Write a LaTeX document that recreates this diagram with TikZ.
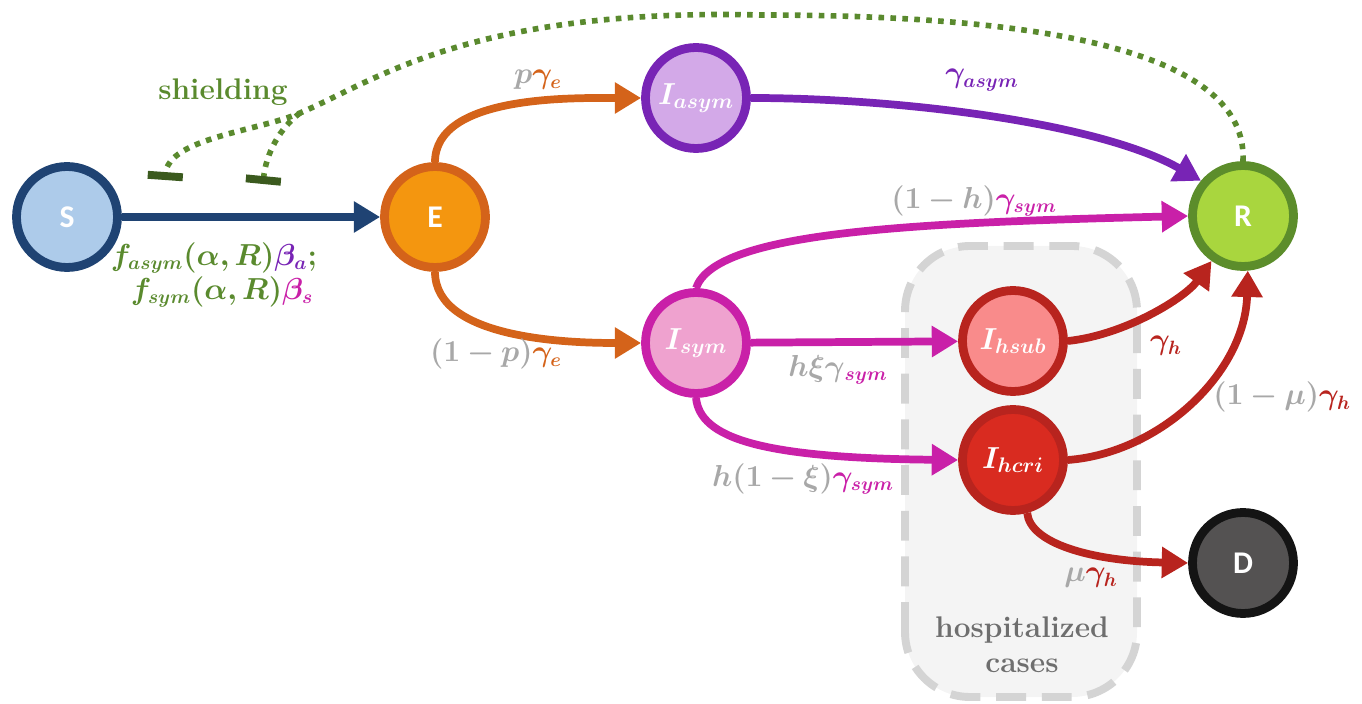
\documentclass[tikz,border=0pt]{standalone}
\usepackage{amsmath}
\usepackage{bm}
\usepackage{fontspec}
\setsansfont{Carlito}
\usepackage{tikz}
\usetikzlibrary{arrows.meta}
\definecolor{sblue}{HTML}{1F4373}
\definecolor{sfill}{HTML}{ADCBEA}
\definecolor{eorange}{HTML}{D4631A}
\definecolor{efill}{HTML}{F4960F}
\definecolor{apurple}{HTML}{7824B5}
\definecolor{afill}{HTML}{D3A9E8}
\definecolor{rgreen}{HTML}{5C8D2B}
\definecolor{rfill}{HTML}{A9D63E}
\definecolor{smag}{HTML}{C920A8}
\definecolor{symfill}{HTML}{EFA2CF}
\definecolor{hred}{HTML}{B8241E}
\definecolor{hsubfill}{HTML}{F98B8B}
\definecolor{hcrifill}{HTML}{D92B20}
\definecolor{dfill}{HTML}{545252}
\definecolor{lgray}{HTML}{A8A8A8}
\definecolor{shgreen}{HTML}{5A8A2E}
\definecolor{bargreen}{HTML}{3B5A1E}
\definecolor{boxgray}{HTML}{D4D4D4}
\definecolor{boxfill}{HTML}{F4F4F4}
\definecolor{hosptext}{HTML}{6E6E6E}
\tikzset{
  comp/.style={circle, minimum size=2.02cm, inner sep=0pt, line width=5pt, text=white},
  letter/.style={font=\sffamily\bfseries\fontsize{18}{20}\selectfont},   % S E R D
  sub/.style={font=\fontsize{18}{20}\selectfont},                        % I_x compartments
  flow/.style={line width=4.4pt, -{Triangle[length=15pt,width=17pt]}},
  shield/.style={draw=shgreen, line width=3.2pt, dash pattern=on 3.2pt off 3.6pt},
  bar/.style={-{Bar[width=20pt,line width=4.5pt,color=bargreen]}},
  rate/.style={font=\fontsize{16}{18}\selectfont, inner sep=1pt},
  word/.style={font=\bfseries\fontsize{17}{20}\selectfont, align=center},
  hbox/.style={draw=boxgray, fill=boxfill, line width=4.5pt,
               dash pattern=on 17pt off 9pt, rounded corners=1.3cm},
}

\begin{document}
\begin{tikzpicture}[x=0.02cm, y=0.02cm]
  \useasboundingbox (0,0) rectangle (1362,703);
  \draw[hbox] (905,6) rectangle (1137,457);
  \node[word, text=hosptext] (hosp) at (1022,58) {hospitalized\\cases};

  \node[comp, letter, draw=sblue, fill=sfill]     (S)   at (67,486)   {S};
  \node[comp, letter, draw=eorange, fill=efill]   (E)   at (435,486)  {E};
  \node[comp, sub, draw=apurple, fill=afill]      (Ia)  at (696,605)  {$\bm{I_{asym}}$};
  \node[comp, letter, draw=rgreen, fill=rfill]    (R)   at (1243,487) {R};
  \node[comp, sub, draw=smag, fill=symfill]       (Is)  at (696,360)  {$\bm{I_{sym}}$};
  \node[comp, sub, draw=hred, fill=hsubfill]      (Ihs) at (1013,362) {$\bm{I_{hsub}}$};
  \node[comp, sub, draw=hred, fill=hcrifill]      (Ihc) at (1013,243) {$\bm{I_{hcri}}$};
  \node[comp, letter, draw=black!92, fill=dfill]  (D)   at (1243,140) {D};

  \draw[flow, sblue] (S) -- (E);
  \draw[flow, eorange] (E.north) to[out=90,in=180,looseness=0.8] (Ia.west);
  \draw[flow, eorange] (E.south) to[out=-90,in=180,looseness=0.8] (Is.west);
  \draw[flow, apurple] (Ia.east) .. controls (900,605) and (1100,580) .. (R.140);
  \draw[flow, smag] (Is.north) .. controls (715,470) and (900,480) .. (R.west);
  \draw[flow, smag] (Is) -- (Ihs);
  \draw[flow, smag] (Is.south) .. controls (700,265) and (760,245) .. (Ihc.west);
  \draw[flow, hred] (Ihs.east) .. controls (1125,368) and (1185,405) .. (R.235);
  \draw[flow, hred] (Ihc.east) .. controls (1160,250) and (1245,330) .. (R.-85);
  \draw[flow, hred] (Ihc.-75) .. controls (1030,160) and (1090,142) .. (D.west);

  % shielding
  \coordinate (top) at (760,688);
  \coordinate (J)   at (300,590);
  \coordinate (b1)  at (165,523);
  \coordinate (b2)  at (263,519);
  \draw[shield, bar] (R.north) .. controls (1248,650) and (1050,688) .. (top)
    .. controls (470,695) and (375,622) .. (J)
    .. controls (259,572) and (168,565) .. (b1);
  \draw[shield, bar] (J) .. controls (280,575) and (266,550) .. (b2);
  \node[word, text=shgreen] (shl) at (223,611) {shielding};

  \node[rate] (lse1) at (214,445)
    {$\textcolor{shgreen}{\bm{f_{asym}(\alpha,R)}}\textcolor{apurple}{\bm{\beta_a}}\textcolor{shgreen}{\bm{;}}$};
  \node[rate] (lse2) at (222,411)
    {$\textcolor{shgreen}{\bm{f_{sym}(\alpha,R)}}\textcolor{smag}{\bm{\beta_s}}$};
  \node[rate] (lpe)  at (538,623) {$\textcolor{lgray}{\bm{p}}\textcolor{eorange}{\bm{\gamma_e}}$};
  \node[rate] (lqe)  at (496,349) {$\textcolor{lgray}{\bm{(1-p)}}\textcolor{eorange}{\bm{\gamma_e}}$};
  \node[rate] (lga)  at (982,623) {$\textcolor{apurple}{\bm{\gamma_{asym}}}$};
  \node[rate] (lgs)  at (974,502) {$\textcolor{lgray}{\bm{(1-h)}}\textcolor{smag}{\bm{\gamma_{sym}}}$};
  \node[rate] (lhx)  at (838,333) {$\textcolor{lgray}{\bm{h\xi\gamma}}_{\textcolor{smag}{\bm{sym}}}$};
  \node[rate] (lhq)  at (803,224) {$\textcolor{lgray}{\bm{h(1-\xi)}}\textcolor{smag}{\bm{\gamma_{sym}}}$};
  \node[rate] (lgh)  at (1166,357) {$\textcolor{hred}{\bm{\gamma_h}}$};
  \node[rate] (lmh)  at (1282,306) {$\textcolor{lgray}{\bm{(1-\mu)}}\textcolor{hred}{\bm{\gamma_h}}$};
  \node[rate] (lmu)  at (1091,125) {$\textcolor{lgray}{\bm{\mu}}\textcolor{hred}{\bm{\gamma_h}}$};
\end{tikzpicture}
\end{document}
